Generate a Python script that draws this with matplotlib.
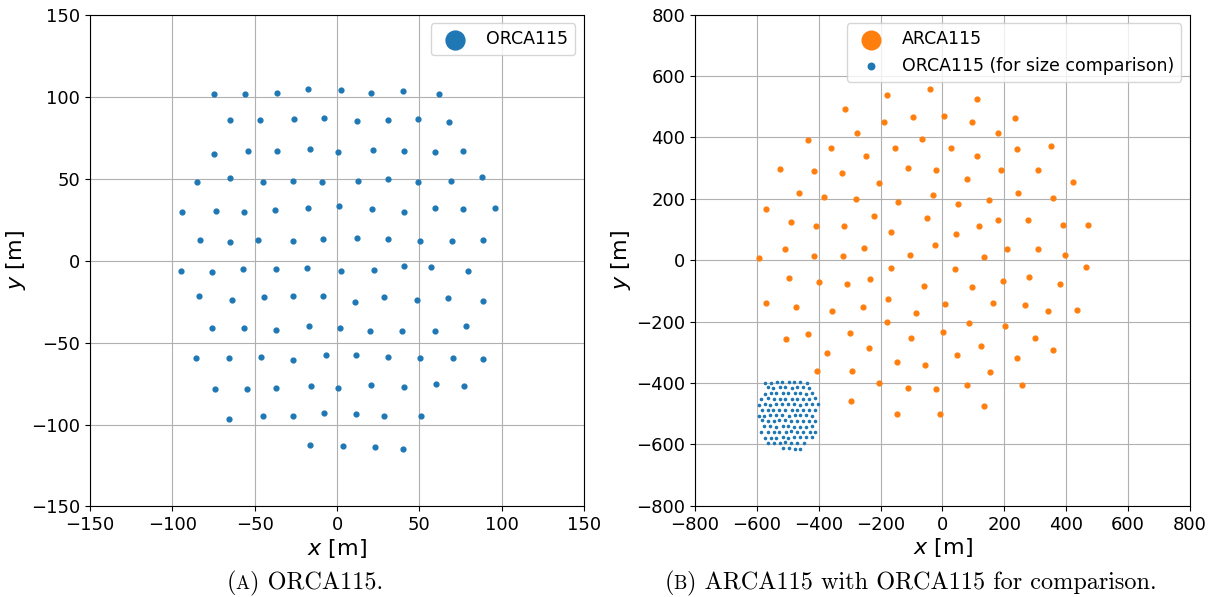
import matplotlib.pyplot as plt
import numpy as np
from matplotlib.offsetbox import TextArea, HPacker, AnchoredOffsetbox

# ORCA115 string positions [m], read row by row
orca_x = [-74.9, -55.7, -36.2, -17.8, 2.7, 20.7, 39.9, 62.0,
          -65.0, -47.0, -26.3, -8.1, 12.0, 31.2, 49.4, 68.3,
          -74.9, -54.1, -36.7, -16.6, 0.8, 22.1, 40.7, 59.2, 76.8,
          -85.2, -65.0, -45.1, -26.7, -9.1, 12.6, 30.8, 49.4, 69.5, 88.3,
          -93.9, -73.3, -56.3, -37.8, -17.4, 1.4, 21.3, 40.9, 59.4, 76.6, 96.2,
          -83.4, -65.2, -47.8, -26.9, -8.5, 12.0, 31.2, 50.4, 69.7, 88.7,
          -94.6, -75.7, -57.3, -36.8, -18.0, 2.6, 22.5, 40.5, 57.3, 79.4,
          -83.6, -63.8, -44.5, -26.9, -8.3, 11.0, 28.8, 48.4, 67.3, 88.9,
          -75.7, -56.7, -37.0, -16.8, 1.6, 20.1, 39.3, 59.4, 78.2,
          -85.4, -65.3, -46.1, -26.9, -6.9, 11.8, 31.0, 50.2, 70.3, 88.5,
          -73.9, -54.4, -36.8, -16.0, 0.8, 20.7, 40.4, 60.0, 77.0,
          -65.4, -45.1, -26.5, -7.9, 11.4, 28.6, 51.3,
          -16.6, 3.5, 22.9, 40.1]
orca_y = [101.5, 101.5, 101.9, 104.7, 104.1, 101.9, 103.1, 101.5,
          85.9, 85.5, 86.5, 86.9, 85.2, 85.9, 86.1, 84.6,
          65.1, 67.1, 67.0, 67.8, 66.4, 67.4, 67.1, 66.0, 67.0,
          47.9, 50.6, 47.7, 48.3, 48.1, 48.3, 49.7, 47.9, 48.5, 50.9,
          29.6, 30.5, 29.4, 30.8, 32.3, 33.1, 31.7, 29.6, 31.9, 31.3, 32.3,
          12.6, 11.2, 12.6, 12.2, 13.4, 13.6, 13.0, 12.0, 12.0, 12.4,
          -6.1, -6.9, -5.3, -4.9, -4.5, -6.5, -5.5, -3.3, -4.1, -6.1,
          -21.9, -23.8, -22.1, -21.7, -21.9, -25.0, -22.1, -24.2, -22.6, -24.6,
          -41.4, -41.2, -42.2, -40.0, -41.4, -42.7, -42.7, -42.9, -39.8,
          -59.7, -59.7, -58.9, -60.5, -57.9, -57.7, -59.1, -59.3, -59.7, -59.9,
          -78.6, -78.2, -77.6, -76.6, -78.0, -76.2, -76.9, -75.5, -76.7,
          -96.4, -94.8, -94.6, -93.2, -93.8, -94.8, -95.0,
          -112.7, -112.9, -113.5, -115.1]

# ARCA115 string positions [m]
arca_x = [-180.6, -41.5, 112.7, -316.4, -190.3, -96.5, 4.9, 95.4, -276.5, -435.0,
          -65.2, -361.7, -247.4, -153.6, 27.5, 111.6, -526.6, -416.7, -325.0, -111.6,
          -22.1, 78.2, -206.4, -464.1, -382.2, -278.7, -29.6, -142.8, 51.2, -570.8,
          -222.6, -490.0, -408.1, -318.6, -50.1, -165.5, 44.7, 119.1, -508.3, -415.6,
          -322.9, -253.9, -106.2, -23.2, -593.5, -167.6, 41.5, -495.4, -234.5,
          233.4, 180.6, 242.0, 352.0, 190.3, 309.9, 422.1, 245.3, 149.3, 358.5,
          180.6, 277.6, 389.7, 469.4, 208.6, 309.9, 395.1, 133.1, 465.2, 278.7,
          -399.4, -308.9, -59.8, 94.3, -570.8, -474.9, -358.5, -258.2, -176.3, -84.6,
          8.1, -179.5, 86.8, 1.6, -505.1, -435.0, -299.2, -101.9, -372.5, -237.7,
          45.8, -148.2, -55.5, -405.9, -292.7, -206.4, -112.7, -21.0, 79.2, -294.9,
          -146.1, -9.2,
          196.7, 380.0, 164.4, 265.7, 342.3, 433.9, 202.1, 299.1, 123.4, 357.4,
          240.9, 153.6, 258.2, 133.2]
arca_y = [537.4, 556.9, 525.4, 492.8, 450.5, 465.7, 468.9, 450.5, 414.7, 393.1,
          396.4, 364.7, 340.8, 364.7, 365.8, 338.6, 296.3, 292.0, 284.4, 300.7,
          295.2, 263.7, 251.7, 219.2, 206.2, 200.8, 212.7, 191.0, 182.3, 167.1,
          145.4, 123.7, 112.8, 111.7, 138.9, 92.2, 86.7, 112.8, 37.9, 15.1,
          12.9, 39.0, 18.3, 49.8, 8.6, -26.2, -27.3, -58.7, -60.9,
          462.4, 415.7, 361.5, 372.3, 293.0, 295.2, 255.0, 220.2, 197.5, 203.0,
          130.2, 131.3, 116.1, 113.9, 37.9, 36.8, 17.3, 10.7, -22.7, -55.5,
          -71.8, -76.1, -83.7, -87.0, -138.0, -152.1, -164.1, -151.0, -125.0, -170.6,
          -141.3, -202.1, -203.1, -233.5, -257.4, -239.0, -237.9, -253.1, -300.9, -286.8,
          -309.6, -330.2, -341.0, -361.7, -361.7, -400.8, -417.0, -419.2, -407.3, -458.3,
          -500.6, -500.6,
          -66.3, -77.2, -140.2, -146.7, -164.1, -161.9, -215.1, -252.0, -278.1, -293.3,
          -319.3, -362.8, -405.1, -475.7]

# where the ORCA footprint is placed for the size comparison
orca_offset = (-500.0, -500.0)


def caption(fig, xc, letter, rest):
    # "(A) text" with the letter in small capitals, like the LaTeX subcaption
    big = dict(fontsize=17.5, family='cmr10')
    small = dict(fontsize=13.5, family='cmr10')
    parts = [TextArea('(', textprops=big),
             TextArea(letter, textprops=small),
             TextArea(') ' + rest, textprops=big)]
    box = HPacker(children=parts, align='baseline', pad=0, sep=0)
    anchored = AnchoredOffsetbox(loc='center', child=box, frameon=False,
                                 bbox_to_anchor=(xc, 0.024),
                                 bbox_transform=fig.transFigure,
                                 borderpad=0, pad=0)
    fig.add_artist(anchored)


plt.rcParams['mathtext.fontset'] = 'dejavusans'

fig = plt.figure(figsize=(12.14, 5.97), dpi=100)
ax1 = fig.add_axes([0.0741, 0.1516, 0.4070, 0.8240])
ax2 = fig.add_axes([0.5725, 0.1526, 0.4077, 0.8230])

blue = '#1f77b4'
orange = '#ff7f0e'

ax1.scatter(orca_x, orca_y, s=12, color=blue, label='ORCA115', zorder=3)
ax1.set_xlim(-150, 150)
ax1.set_ylim(-150, 150)
ax1.set_xticks(np.arange(-150, 151, 50))
ax1.set_yticks(np.arange(-150, 151, 50))
leg1 = ax1.legend(loc='upper right', fontsize=12.5)
leg1.legend_handles[0].set_sizes([185])

ax2.scatter(arca_x, arca_y, s=12, color=orange, label='ARCA115', zorder=3)
ax2.scatter(np.array(orca_x) + orca_offset[0], np.array(orca_y) + orca_offset[1],
            s=2.5, color=blue, label='ORCA115 (for size comparison)', zorder=3)
ax2.set_xlim(-800, 800)
ax2.set_ylim(-800, 800)
ax2.set_xticks(np.arange(-800, 801, 200))
ax2.set_yticks(np.arange(-800, 801, 200))
leg2 = ax2.legend(loc='upper right', fontsize=12.5)
leg2.legend_handles[0].set_sizes([180])
leg2.legend_handles[1].set_sizes([22])

for ax in (ax1, ax2):
    ax.grid(True, color='#b0b0b0', linewidth=0.8)
    ax.set_axisbelow(True)
    ax.tick_params(labelsize=13)
    ax.set_xlabel('$x$ [m]', fontsize=16, labelpad=2)
    ax.set_ylabel('$y$ [m]', fontsize=16, labelpad=2)

caption(fig, 0.251, 'A', 'ORCA115.')
caption(fig, 0.750, 'B', 'ARCA115 with ORCA115 for comparison.')

plt.savefig('out.png', dpi=100)
